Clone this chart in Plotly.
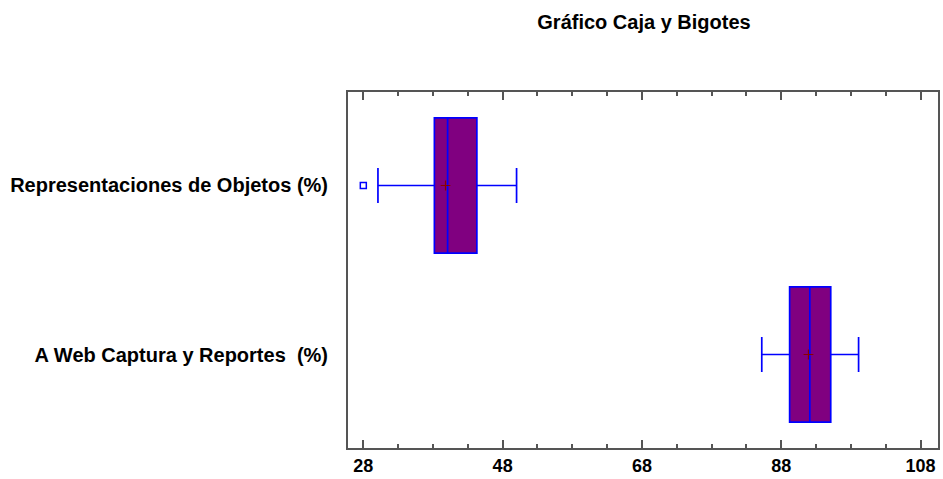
import plotly.graph_objects as go

# Data
categories = ["A Web Captura y Reportes  (%)", "Representaciones de Objetos (%)"]
positions = [0, 1]
q1 = [89.2, 38.2]
median = [92.1, 40.1]
q3 = [95.1, 44.3]
lower_whisker = [85.2, 30.1]
upper_whisker = [99.1, 50.0]
means = [91.9, 39.8]
outlier_x = [28.0]
outlier_pos = [1]
tick_vals = [28, 48, 68, 88, 108]

FONT = "Liberation Sans, Arial, sans-serif"

fig = go.Figure()
for i in range(len(categories)):
    fig.add_trace(go.Box(
        orientation="h",
        y=[positions[i]],
        q1=[q1[i]], median=[median[i]], q3=[q3[i]],
        lowerfence=[lower_whisker[i]], upperfence=[upper_whisker[i]],
        fillcolor="#800080",
        line=dict(color="#0000FF", width=1.7),
        width=0.8,
        whiskerwidth=0.26,
        boxpoints=False,
        showlegend=False,
        hoverinfo="skip",
    ))

fig.add_trace(go.Scatter(
    x=means, y=positions, mode="markers",
    marker=dict(symbol="cross-thin", size=7, line=dict(color="#8B0000", width=1.2)),
    showlegend=False, hoverinfo="skip",
))
fig.add_trace(go.Scatter(
    x=outlier_x, y=outlier_pos, mode="markers",
    marker=dict(symbol="square-open", size=6, color="#0000FF", line=dict(width=1.5)),
    showlegend=False, hoverinfo="skip",
))

tick_text_y = [c.replace("  ", "\u00a0\u00a0") for c in categories]

fig.update_layout(
    width=943, height=479,
    margin=dict(l=348, r=3, t=92, b=30),
    paper_bgcolor="white", plot_bgcolor="white",
    title=dict(text="<b>Gráfico Caja y Bigotes</b>", x=644 / 943, xanchor="center",
               y=1 - 22 / 479, yanchor="middle", xref="container", yref="container",
               font=dict(family=FONT, size=20, color="black")),
    font=dict(family=FONT, color="black"),
)
fig.update_xaxes(
    range=[25.8, 110.5], tickvals=tick_vals,
    ticktext=[f"<b>{v}</b>" for v in tick_vals],
    ticks="inside", ticklen=8, tickwidth=2, tickcolor="#555555",
    minor=dict(dtick=5, tick0=28, ticks="inside", ticklen=4, tickwidth=1.5, tickcolor="#555555"),
    showline=True, linecolor="#555555", linewidth=2, mirror="ticks",
    showgrid=False, zeroline=False,
    tickfont=dict(family=FONT, size=18, color="black"),
)
fig.update_yaxes(
    range=[-0.553, 1.553], tickvals=positions,
    ticktext=[f"<b>{t}</b>" for t in tick_text_y],
    ticks="", showline=True, linecolor="#555555", linewidth=2, mirror=True,
    showgrid=False, zeroline=False, ticklabelstandoff=14,
    tickfont=dict(family=FONT, size=20, color="black"),
)

fig.write_html("out.html")
